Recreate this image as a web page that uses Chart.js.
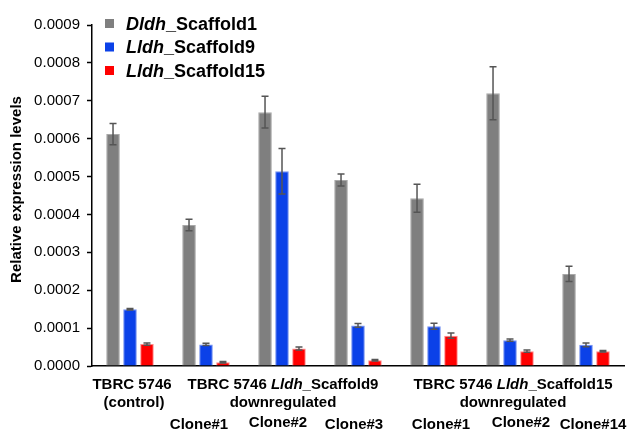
<!DOCTYPE html>
<html>
<head>
<meta charset="utf-8">
<script src="https://cdn.jsdelivr.net/npm/chart.js@4.4.1/dist/chart.umd.min.js"></script>
<style>
  html, body { margin: 0; padding: 0; background: #fff; }
  #wrap { width: 628px; height: 434px; }
</style>
</head>
<body>
<div id="wrap"><canvas id="expressionChart" width="628" height="434"></canvas></div>
<script>
// groups on the x axis
const categories = ['Control', 'S9 Clone#1', 'S9 Clone#2', 'S9 Clone#3', 'S15 Clone#1', 'S15 Clone#2', 'S15 Clone#14'];
const cloneLabels = ['', 'Clone#1', 'Clone#2', 'Clone#3', 'Clone#1', 'Clone#2', 'Clone#14'];

// series names: [italic part, plain part]
const seriesItalic = ['Dldh', 'Lldh', 'Lldh'];
const seriesPlain = ['_Scaffold1', '_Scaffold9', '_Scaffold15'];

const dldhScaffold1 = [0.000612, 0.000372, 0.000670, 0.000491, 0.000443, 0.000720, 0.000243];
const dldhScaffold1Err = [0.000028, 0.000015, 0.000042, 0.000016, 0.000037, 0.000070, 0.000020];
const lldhScaffold9 = [0.000150, 0.000057, 0.000514, 0.000107, 0.000105, 0.000068, 0.000056];
const lldhScaffold9Err = [0.000002, 0.000003, 0.000060, 0.000005, 0.000008, 0.000003, 0.000005];
const lldhScaffold15 = [0.000058, 0.000010, 0.000046, 0.000015, 0.000080, 0.000039, 0.000039];
const lldhScaffold15Err = [0.000003, 0.000002, 0.000004, 0.000002, 0.000007, 0.000003, 0.000002];

const yMax = 0.0009;
const yStep = 0.0001;

const colors = ['#7f7f7f', '#0b41e8', '#ff0000'];
const borders = ['#a8a8a8', '#7592f0', '#ff8a8a'];
const FONT = "'Liberation Sans', Arial, sans-serif";

//---------------------------------
// error bars
const errorBarPlugin = {
    id: 'errorBars',
    afterDatasetsDraw(chart) {
        const ctx = chart.ctx;
        const y = chart.scales.y;
        ctx.save();
        ctx.strokeStyle = '#555';
        ctx.lineWidth = 1.5;
        chart.data.datasets.forEach((ds, di) => {
            const meta = chart.getDatasetMeta(di);
            meta.data.forEach((bar, i) => {
                const v = ds.data[i];
                const e = ds.errors[i];
                const yTop = y.getPixelForValue(v + e);
                const yBot = y.getPixelForValue(v - e);
                ctx.beginPath();
                ctx.moveTo(bar.x, yTop);
                ctx.lineTo(bar.x, yBot);
                ctx.moveTo(bar.x - 3.5, yTop);
                ctx.lineTo(bar.x + 3.5, yTop);
                ctx.moveTo(bar.x - 3.5, yBot);
                ctx.lineTo(bar.x + 3.5, yBot);
                ctx.stroke();
            });
        });
        ctx.restore();
    }
};

// draw mixed italic / bold text centered at x
function drawMixed(ctx, parts, cx, cy, size) {
    let total = 0;
    parts.forEach(p => {
        ctx.font = (p.italic ? 'italic ' : '') + 'bold ' + size + 'px ' + FONT;
        p.w = ctx.measureText(p.text).width;
        total += p.w;
    });
    let x = cx - total / 2;
    parts.forEach(p => {
        ctx.font = (p.italic ? 'italic ' : '') + 'bold ' + size + 'px ' + FONT;
        ctx.fillText(p.text, x, cy);
        x += p.w;
    });
}

//---------------------------------
// legend, x labels, y title
const labelPlugin = {
    id: 'labels',
    afterDraw(chart) {
        const ctx = chart.ctx;
        const xs = chart.scales.x;
        const area = chart.chartArea;
        ctx.save();
        ctx.fillStyle = '#000';
        ctx.textBaseline = 'middle';
        ctx.textAlign = 'left';

        // legend
        seriesItalic.forEach((it, i) => {
            const ly = 25 + i * 23.5;
            ctx.fillStyle = colors[i];
            ctx.fillRect(105, ly - 6, 9, 9);
            ctx.fillStyle = '#000';
            ctx.font = 'italic bold 18px ' + FONT;
            ctx.fillText(it, 126, ly);
            const w = ctx.measureText(it).width;
            ctx.font = 'bold 18px ' + FONT;
            ctx.fillText(seriesPlain[i], 126 + w, ly);
        });

        // x labels
        const px = (i) => xs.getPixelForValue(i);
        const row1 = area.bottom + 19;
        const row2 = area.bottom + 37;
        const row3 = area.bottom + 59;
        drawMixed(ctx, [{ text: 'TBRC 5746' }], px(0) + 2, row1, 15);
        drawMixed(ctx, [{ text: '(control)' }], px(0) + 4, row2, 15);
        drawMixed(ctx, [{ text: 'TBRC 5746 ' }, { text: 'Lldh', italic: true }, { text: '_Scaffold9' }], px(2) + 1, row1, 15);
        drawMixed(ctx, [{ text: 'downregulated' }], px(2) + 1, row2, 15);
        drawMixed(ctx, [{ text: 'TBRC 5746 ' }, { text: 'Lldh', italic: true }, { text: '_Scaffold15' }], px(5) + 3, row1, 15);
        drawMixed(ctx, [{ text: 'downregulated' }], px(5) + 3, row2, 15);
        const cloneOffsets = [0, -7, -4, -4, 7, 11, 7];
        cloneLabels.forEach((t, i) => {
            if (t) drawMixed(ctx, [{ text: t }], px(i) + cloneOffsets[i], row3 - (i === 2 || i === 5 ? 2 : 0), 15);
        });

        // y title
        ctx.translate(17, (area.top + area.bottom) / 2 - 6);
        ctx.rotate(-Math.PI / 2);
        drawMixed(ctx, [{ text: 'Relative expression levels' }], 0, 0, 15);
        ctx.restore();
    }
};

const seriesValues = [dldhScaffold1, lldhScaffold9, lldhScaffold15];
const seriesErrors = [dldhScaffold1Err, lldhScaffold9Err, lldhScaffold15Err];

const chart = new Chart(document.getElementById('expressionChart'), {
    type: 'bar',
    data: {
        labels: categories,
        datasets: seriesValues.map((vals, i) => ({
            label: seriesItalic[i] + seriesPlain[i],
            data: vals,
            errors: seriesErrors[i],
            backgroundColor: colors[i],
            borderColor: borders[i],
            borderWidth: 1,
            categoryPercentage: 0.67,
            barPercentage: 0.8
        }))
    },
    options: {
        responsive: false,
        animation: false,
        layout: { padding: { top: 25, right: 4, bottom: 0, left: 0 } },
        plugins: {
            legend: { display: false },
            tooltip: { enabled: false }
        },
        scales: {
            x: {
                grid: { display: false },
                border: { display: true, color: '#000', width: 1.5 },
                ticks: { display: false },
                afterFit(scale) { scale.height = 68; }
            },
            y: {
                min: 0,
                max: yMax,
                grid: { drawOnChartArea: false, drawTicks: true, tickLength: 5, tickColor: '#000', tickWidth: 1.5 },
                border: { display: true, color: '#000', width: 1.5 },
                ticks: {
                    stepSize: yStep,
                    color: '#000',
                    padding: 7,
                    font: { family: FONT, size: 15 },
                    callback: (v) => v.toFixed(4)
                },
                afterFit(scale) { scale.width = 92; }
            }
        }
    },
    plugins: [errorBarPlugin, labelPlugin]
});
</script>
</body>
</html>
